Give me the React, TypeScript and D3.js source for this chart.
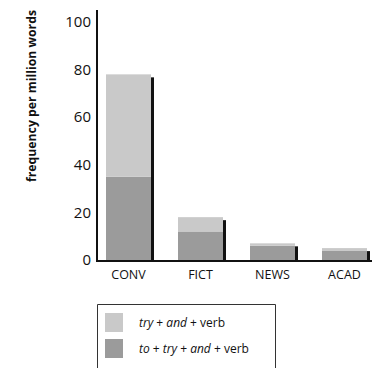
import React from "react";
import * as d3 from "d3";

const categories = ["CONV", "FICT", "NEWS", "ACAD"];
const toTryAnd = [35, 12, 6, 4];
const tryAnd = [43, 6, 1, 1];
const yTicks = [0, 20, 40, 60, 80, 100];
const yLabel = "frequency per million words";
const legendItems = [
  { parts: [["try", true], [" + ", false], ["and", true], [" + verb", false]] },
  { parts: [["to", true], [" + ", false], ["try", true], [" + ", false], ["and", true], [" + verb", false]] },
];

const LIGHT = "#c9c9c9";
const DARK = "#9b9b9b";
const FONT = "'Open Sans', 'Noto Sans', sans-serif";

export default function App() {
  const W = 382, H = 368;
  const x = d3.scaleBand<string>().domain(categories).range([97, 376]).paddingInner(0.375).paddingOuter(0.125);
  const y = d3.scaleLinear().domain([0, 100]).range([260, 22]);
  const bw = x.bandwidth();
  const legendColors = [LIGHT, DARK];

  return (
    <svg width={W} height={H} style={{ position: "absolute", left: 0, top: 0, background: "#fff" }} fontFamily={FONT}>
      <text transform={`translate(36,96) rotate(-90)`} textAnchor="middle" fontSize={11.5} fontWeight="bold" fill="#111"
        textLength={172} lengthAdjust="spacingAndGlyphs">
        {yLabel}
      </text>
      {yTicks.map((t) => (
        <text key={t} x={91} y={y(t)} dy="0.35em" textAnchor="end" fontSize={15} fontWeight={500} fill="#111">
          {t}
        </text>
      ))}
      {categories.map((c, i) => {
        const x0 = x(c)!;
        const total = toTryAnd[i] + tryAnd[i];
        return (
          <g key={c}>
            <rect x={x0 + bw} y={y(total) + 3} width={3} height={y(0) - y(total) - 2} fill="#111" />
            <rect x={x0} y={y(toTryAnd[i])} width={bw} height={y(0) - y(toTryAnd[i])} fill={DARK} />
            <rect x={x0} y={y(total)} width={bw} height={y(toTryAnd[i]) - y(total)} fill={LIGHT} />
            <text x={x0 + bw / 2} y={279} textAnchor="middle" fontSize={12.5} fill="#111">
              {c}
            </text>
          </g>
        );
      })}
      <line x1={97} x2={97} y1={10} y2={262} stroke="#111" strokeWidth={2} />
      <line x1={96} x2={372} y1={261} y2={261} stroke="#111" strokeWidth={2} />
      <path d="M97.5,368 V304.5 H275.5 V368" fill="none" stroke="#333" strokeWidth={1} />
      {legendItems.map((item, i) => (
        <g key={i}>
          <rect x={105} y={313 + i * 26} width={18} height={19} fill={legendColors[i]} />
          <text x={139} y={327 + i * 26} fontSize={12} fill="#111">
            {item.parts.map(([s, it], j) => (
              <tspan key={j} fontStyle={it ? "italic" : "normal"}>
                {s as string}
              </tspan>
            ))}
          </text>
        </g>
      ))}
    </svg>
  );
}
